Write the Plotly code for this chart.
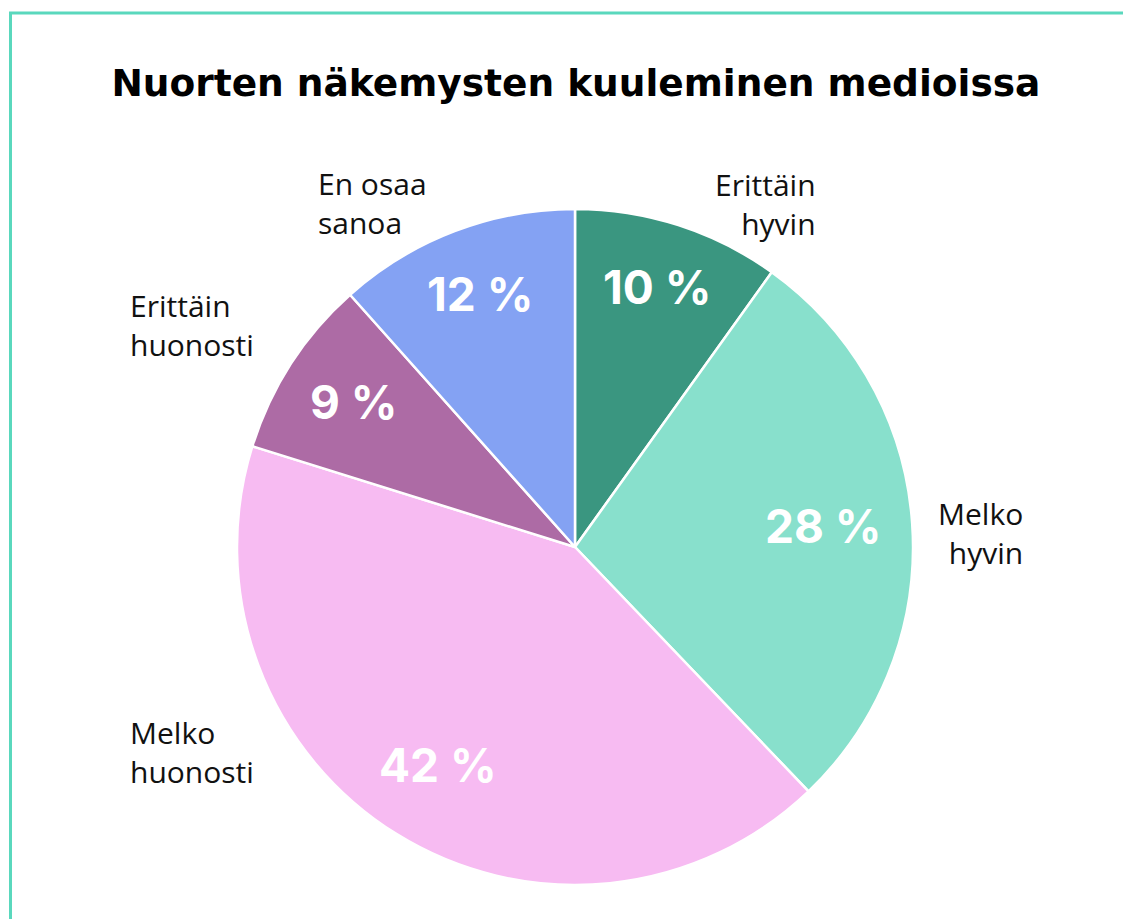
import math
import plotly.graph_objects as go

categories = ["Erittäin hyvin", "Melko hyvin", "Melko huonosti", "Erittäin huonosti", "En osaa sanoa"]
label_lines = ["Erittäin<br>hyvin", "Melko<br>hyvin", "Melko<br>huonosti", "Erittäin<br>huonosti", "En osaa<br>sanoa"]
values = [9.9, 28.0, 42.0, 8.6, 11.6]
colors = ["#3a9680", "#88e0cc", "#f7bbf2", "#ad6ba5", "#84a2f3"]
title_text = "Nuorten näkemysten kuuleminen medioissa"

W, H = 1131, 919
OFF = 8  # page body margin
L, T = 237 - OFF, 208 - OFF
PW, PH = 676, 678
R_, B_ = W - L - PW, H - T - PH
CX, CY = L + PW / 2, T + PH / 2
RAD = min(PW, PH) / 2

LABEL_FONT = "Open Sans"
TITLE_FONT = "DejaVu Sans"
PCT_FONT = "Inter"
PCT_SIZE = 46

def paper(x, y):
    return (x - L) / PW, 1 - (y - T) / PH

def fmt_pct(v):
    return f"{int(math.floor(v + 0.5))} %"

pct_text = [fmt_pct(v) for v in values]

fig = go.Figure(go.Pie(
    labels=categories,
    values=values,
    sort=False,
    direction="clockwise",
    rotation=0,
    marker=dict(colors=colors, line=dict(color="white", width=2.5)),
    textinfo="none",
    hoverinfo="label+percent",
    showlegend=False,
))

annotations = []

# percentage labels placed along each slice's bisector (computed from values)
total = sum(values)
cum = 0.0
outer = 0.905 * RAD
for v, txt in zip(values, pct_text):
    mid = (cum + v / 2) / total * 2 * math.pi
    cum += v
    ux, uy = math.sin(mid), -math.cos(mid)
    ndig = len(txt) - 2
    hw = 0.5 * PCT_SIZE * (0.62 * ndig + 1.16)
    hh = 16.5
    ox, oy = math.copysign(hw, ux), math.copysign(hh, uy)
    bq = 2 * (ux * ox + uy * oy)
    cq = ox * ox + oy * oy - outer * outer
    d = (-bq + math.sqrt(bq * bq - 4 * cq)) / 2
    xp, yp = paper(CX + ux * d, CY + uy * d - 3)
    annotations.append(dict(
        text=f"<b>{txt}</b>", x=xp, y=yp, xref="paper", yref="paper",
        xanchor="center", yanchor="middle", showarrow=False,
        font=dict(family=PCT_FONT, size=PCT_SIZE, color="white"),
    ))

# category labels outside the pie
label_pos = [
    (810, 196, "right"),
    (1017, 525, "right"),
    (120, 744, "left"),
    (120, 317, "left"),
    (308, 195, "left"),
]
for txt, (x, y, a) in zip(label_lines, label_pos):
    xp, yp = paper(x, y)
    annotations.append(dict(
        text=txt, x=xp, y=yp, xref="paper", yref="paper",
        xanchor=a, yanchor="middle", align=a, showarrow=False,
        font=dict(family=LABEL_FONT, size=30, color="#111111"),
    ))

fig.update_layout(
    width=W, height=H,
    margin=dict(l=L, r=R_, t=T, b=B_),
    paper_bgcolor="white",
    title=dict(
        text=f"<b>{title_text}</b>",
        x=(575 - OFF) / W, xanchor="center", y=1 - (83 - OFF) / H, yanchor="middle",
        xref="paper", yref="container",
        font=dict(family=TITLE_FONT, size=37.5, color="black"),
    ),
    annotations=annotations,
    shapes=[dict(
        type="rect", xref="paper", yref="paper",
        x0=paper(2.5, 0)[0], x1=paper(1250, 0)[0],
        y0=paper(0, 1050)[1], y1=paper(0, 5)[1],
        line=dict(color="#5ad8bd", width=3), fillcolor="rgba(0,0,0,0)", layer="below",
    )],
)

fig.write_html("out.html")
